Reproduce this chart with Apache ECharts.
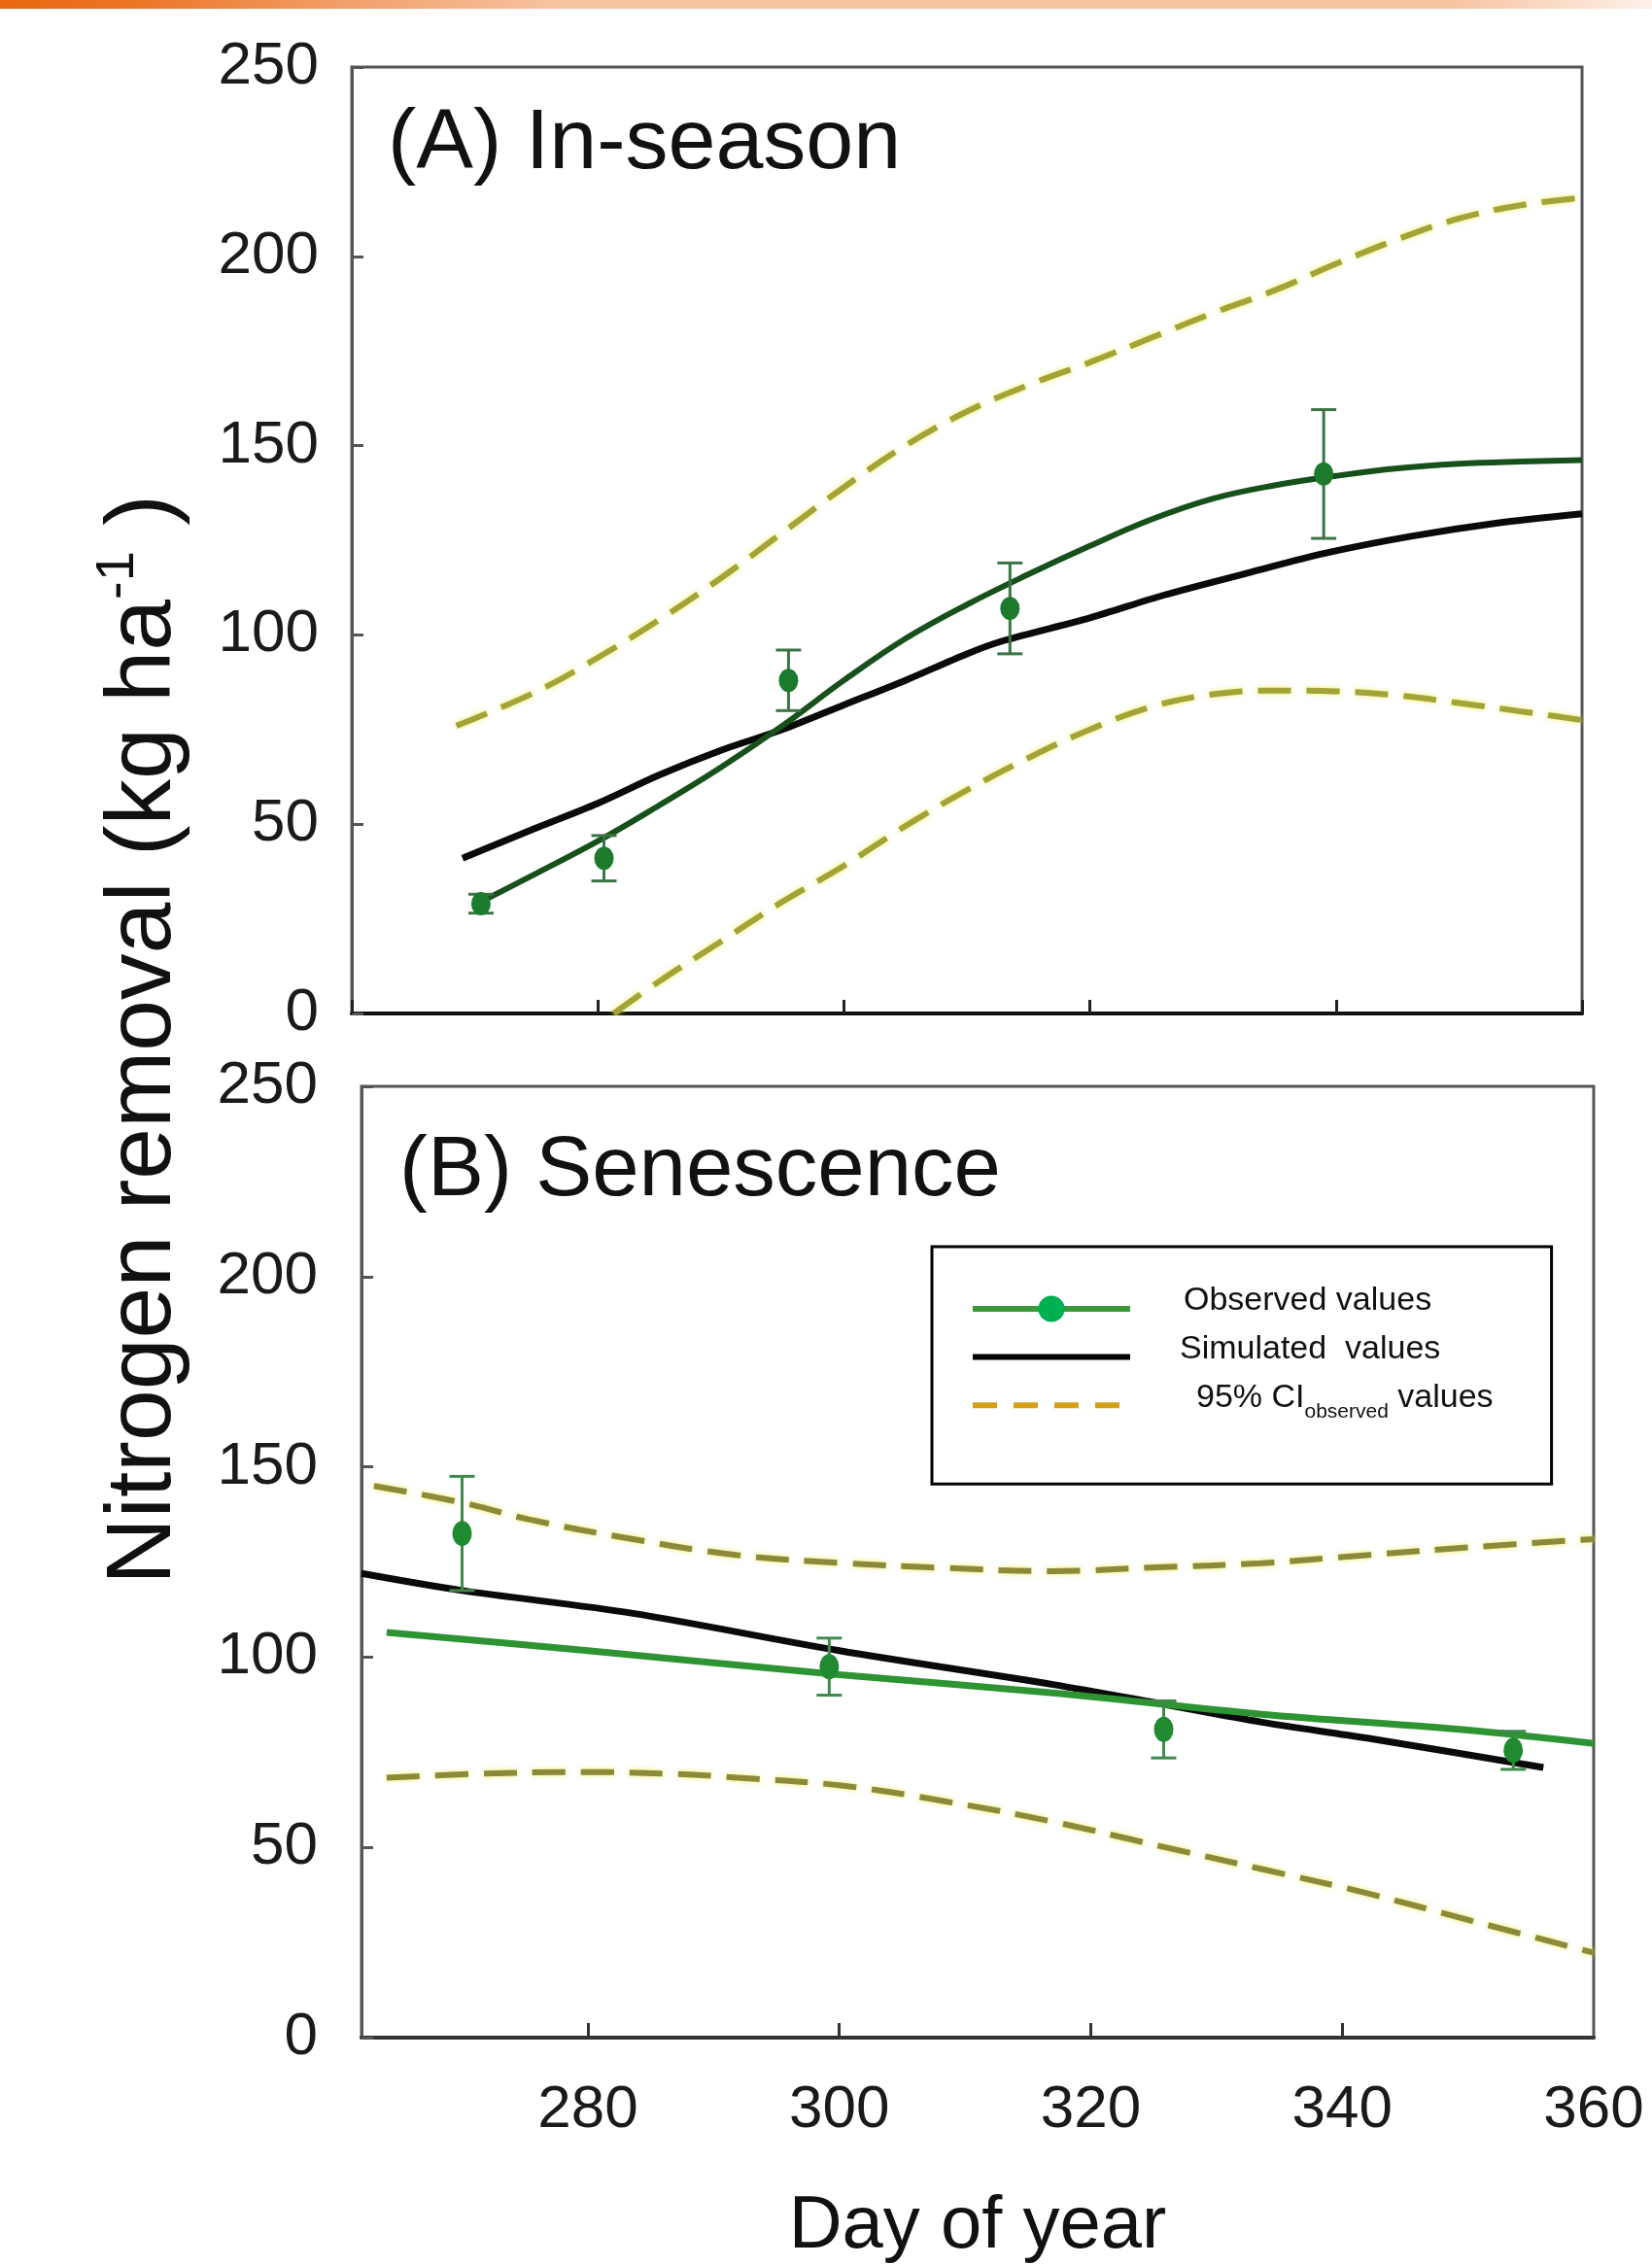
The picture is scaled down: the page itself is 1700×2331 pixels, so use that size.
<!DOCTYPE html>
<html>
<head>
<meta charset="utf-8">
<script src="https://cdn.jsdelivr.net/npm/echarts@6/dist/echarts.min.js"></script>
<style>
html,body{margin:0;padding:0;background:#fff;}
#chart{width:1700px;height:2331px;}
</style>
</head>
<body>
<div id="chart"></div>
<script>
// ---------- DATA ----------
const xTickValues = [280, 300, 320, 340, 360];
const yTickValues = [0, 50, 100, 150, 200, 250];

// (A) In-season
const aObsDays = [270.5, 280.5, 295.5, 313.5, 339];
const aObsVals = [29, 41, 88, 107, 142.5];
const aObsErr  = [2.5, 6, 8, 12, 17];
const aFitDays = [270.5, 275, 280, 285, 290, 295, 300, 305, 310, 315, 320, 325, 330, 335, 340, 345, 350, 355, 360];
const aFitVals = [29.5, 37, 45.5, 55, 65, 76, 88, 99, 108, 116, 123.5, 130.5, 136, 139.5, 142, 144, 145.2, 145.8, 146.2];
const aSimDays = [269, 275, 280, 285, 290, 295, 300, 305, 310, 313, 320, 326, 333, 339, 346, 353, 360];
const aSimVals = [41, 49, 55.5, 63, 69.5, 75, 81.5, 88, 95, 98.5, 104.5, 110.5, 116.5, 121.5, 126, 129.5, 132];
const aUpDays  = [268.5, 275, 280, 285, 290, 295, 300, 305, 310, 315, 320, 325, 330, 335, 340, 345, 350, 355, 360];
const aUpVals  = [76, 85, 94, 104, 115, 127, 139, 150, 159, 166, 172, 178.5, 185, 191, 198, 204.5, 210, 213.5, 215.5];
const aLoDays  = [281.3, 285, 290, 295, 300, 305, 310, 315, 320, 325, 330, 335, 340, 345, 350, 355, 360];
const aLoVals  = [0, 8.5, 19, 29.5, 39, 49.5, 59, 67.5, 75, 81, 84.3, 85.3, 85.1, 84, 82, 79.8, 77.5];

// (B) Senescence
const bObsDays = [270, 299.2, 325.8, 353.6];
const bObsVals = [132.5, 97.5, 81, 75.5];
const bObsErr  = [15, 7.5, 7.5, 5];
const bFitDays = [264, 280, 300, 317, 333.6, 350, 360];
const bFitVals = [106.5, 101.7, 95.4, 90.6, 85, 80.8, 77.3];
const bSimDays = [262, 270, 283.6, 300, 317, 325, 333.6, 342, 356];
const bSimVals = [122, 117.5, 111.5, 101.7, 92.8, 88.1, 82.9, 78.7, 71];
const bUpDays  = [263, 270.3, 275.3, 283.6, 291.9, 300.3, 308, 316.9, 325.3, 333.6, 341.9, 350.3, 360];
const bUpVals  = [145, 140.4, 136.2, 131, 126.8, 124.7, 123.5, 122.6, 123.6, 124.7, 126.8, 128.9, 131];
const bLoDays  = [264, 271, 279.4, 286.9, 291.9, 300.3, 308.6, 316.9, 325.3, 333.6, 341.9, 350.3, 360];
const bLoVals  = [68.3, 69.3, 69.8, 69.3, 68.3, 66.2, 62, 56.8, 50.5, 44.3, 38, 30.7, 22.3];

// ---------- HELPERS ----------
const FONT = "'Liberation Sans', Arial, Helvetica, sans-serif";
const zip = (xs, ys) => xs.map((x, i) => [x, ys[i]]);
const zip3 = (xs, ys, es) => xs.map((x, i) => [x, ys[i], es[i]]);

function errBar(color) {
  return function (params, api) {
    const x = api.value(0), y = api.value(1), e = api.value(2);
    const hi = api.coord([x, y + e]);
    const lo = api.coord([x, y - e]);
    const w = 13;
    const st = { stroke: color, lineWidth: 3, fill: null };
    return {
      type: 'group',
      children: [
        { type: 'line', shape: { x1: hi[0], y1: hi[1], x2: lo[0], y2: lo[1] }, style: st },
        { type: 'line', shape: { x1: hi[0] - w, y1: hi[1], x2: hi[0] + w, y2: hi[1] }, style: st },
        { type: 'line', shape: { x1: lo[0] - w, y1: lo[1], x2: lo[0] + w, y2: lo[1] }, style: st }
      ]
    };
  };
}

const ciStyle = (color) => ({
  color: color, width: 6, type: [34, 16],
  shadowBlur: 5, shadowColor: 'rgba(235,235,70,0.85)'
});

const yAxisBase = (gi, margin) => ({
  type: 'value', gridIndex: gi, min: 0, max: 250, interval: 50,
  axisLine: { show: true, lineStyle: { color: '#555', width: 3 } },
  axisTick: { show: true, inside: true, length: 12, lineStyle: { color: '#555', width: 3 } },
  axisLabel: { show: true, margin: margin, fontSize: 62, fontFamily: FONT, color: '#1a1a1a',
               customValues: yTickValues },
  splitLine: { show: false }
});

const chart = echarts.init(document.getElementById('chart'), null, { renderer: 'canvas' });

const option = {
  backgroundColor: '#ffffff',
  animation: false,
  grid: [
    { left: 362, top: 69, width: 1266, height: 974, show: true, borderColor: '#555', borderWidth: 3, backgroundColor: 'transparent' },
    { left: 372, top: 1118, width: 1268, height: 979, show: true, borderColor: '#555', borderWidth: 3, backgroundColor: 'transparent' }
  ],
  xAxis: [
    {
      type: 'value', gridIndex: 0, min: 260, max: 360, interval: 20,
      axisLine: { show: true, lineStyle: { color: '#111', width: 4 } },
      axisTick: { show: true, inside: true, length: 14, lineStyle: { color: '#222', width: 3 } },
      axisLabel: { show: false },
      splitLine: { show: false }
    },
    {
      type: 'value', gridIndex: 1, min: 262, max: 360,
      axisLine: { show: true, lineStyle: { color: '#333', width: 4 } },
      axisTick: { show: true, inside: true, length: 15, lineStyle: { color: '#333', width: 3 },
                  customValues: xTickValues.slice(0, 4) },
      axisLabel: { show: true, margin: 44, fontSize: 62, fontFamily: FONT, color: '#1a1a1a',
                   customValues: xTickValues, showMaxLabel: true },
      splitLine: { show: false },
      name: 'Day of year', nameLocation: 'middle', nameGap: 157,
      nameTextStyle: { fontSize: 76, fontFamily: FONT, color: '#111' }
    }
  ],
  yAxis: [ yAxisBase(0, 34), yAxisBase(1, 45) ],
  legend: {
    show: true,
    orient: 'vertical',
    left: 959, top: 1283,
    padding: [39, 60, 63, 39],
    borderColor: '#000', borderWidth: 3, backgroundColor: '#fff',
    itemWidth: 162, itemHeight: 34, itemGap: 11,
    selectedMode: false,
    data: [
      { name: 'Observed values',
        itemStyle: { color: '#00b050', opacity: 1, borderWidth: 0 },
        lineStyle: { color: '#3a9a3a', width: 6, opacity: 1, type: 'solid', shadowBlur: 0, shadowColor: 'transparent' } },
      { name: 'Simulated values',
        itemStyle: { color: '#000', opacity: 0, borderWidth: 0 },
        lineStyle: { color: '#000', width: 6, opacity: 1, type: 'solid', shadowBlur: 0, shadowColor: 'transparent' } },
      { name: '95% CI',
        itemStyle: { color: '#d4a017', opacity: 0, borderWidth: 0 },
        lineStyle: { color: '#d4a017', width: 6, opacity: 1, type: [25, 17], shadowBlur: 0, shadowColor: 'transparent' } }
    ],
    formatter: function (name) {
      if (name === 'Observed values') return '{g1| }{t|Observed values}';
      if (name === 'Simulated values') return '{g2| }{t|Simulated  values}';
      return '{g3| }{t|95% CI}{s|observed}{t| values}';
    },
    textStyle: {
      fontSize: 34, fontFamily: FONT, color: '#111',
      padding: [0, 0, 16, 0],
      rich: {
        g1: { width: 50 },
        g2: { width: 46 },
        g3: { width: 63 },
        t: { fontSize: 34, lineHeight: 52, fontFamily: FONT, color: '#111' },
        s: { fontSize: 21, lineHeight: 21, verticalAlign: 'bottom', fontFamily: FONT, color: '#111' }
      }
    }
  },
  graphic: [
    {
      type: 'rect', z: 100,
      shape: { x: 0, y: 0, width: 1700, height: 9 },
      style: {
        fill: { type: 'linear', x: 0, y: 0, x2: 1, y2: 0,
          colorStops: [
            { offset: 0, color: '#e8680f' },
            { offset: 0.08, color: '#ec7425' },
            { offset: 0.22, color: '#f2a36e' },
            { offset: 0.34, color: '#f7c4a2' },
            { offset: 0.88, color: '#f7c4a2' },
            { offset: 1, color: '#fdf1e8' }
          ] }
      }
    },
    {
      type: 'text', x: 149, y: 1070, rotation: Math.PI / 2,
      style: {
        text: '{a|Nitrogen removal (kg ha}{s|-1}{a| )}',
        align: 'center', verticalAlign: 'middle',
        rich: {
          a: { fontSize: 95, lineHeight: 110, fontFamily: FONT, fill: '#111', color: '#111' },
          s: { fontSize: 56, lineHeight: 62, verticalAlign: 'top', fontFamily: FONT, fill: '#111', color: '#111' }
        }
      }
    },
    {
      type: 'text', x: 399, y: 149,
      style: { text: '(A) In-season', fontSize: 88, fontFamily: FONT, fill: '#111', align: 'left', verticalAlign: 'middle' }
    },
    {
      type: 'text', x: 411, y: 1206,
      style: { text: '(B) Senescence', fontSize: 87, fontFamily: FONT, fill: '#111', align: 'left', verticalAlign: 'middle' }
    }
  ],
  series: [
    // ---- legend-anchor & observed points (A) ----
    {
      name: 'Observed values', type: 'line', xAxisIndex: 0, yAxisIndex: 0, z: 6,
      data: zip(aObsDays, aObsVals),
      symbol: 'circle', symbolSize: [20, 24], showSymbol: true,
      itemStyle: { color: '#1c7a2c' },
      lineStyle: { width: 0, opacity: 0 }
    },
    // ---- (A) CI ----
    {
      name: '95% CI', type: 'line', xAxisIndex: 0, yAxisIndex: 0, z: 2,
      data: zip(aUpDays, aUpVals), smooth: 0.4, symbol: 'none',
      lineStyle: ciStyle('#a3a338')
    },
    {
      name: '95% CI', type: 'line', xAxisIndex: 0, yAxisIndex: 0, z: 2,
      data: zip(aLoDays, aLoVals), smooth: 0.4, symbol: 'none',
      lineStyle: ciStyle('#a3a338')
    },
    // ---- (A) simulated ----
    {
      name: 'Simulated values', type: 'line', xAxisIndex: 0, yAxisIndex: 0, z: 3,
      data: zip(aSimDays, aSimVals), smooth: 0.3, symbol: 'none',
      lineStyle: { color: '#0a0a0a', width: 7 }
    },
    // ---- (A) observed fit ----
    {
      name: 'Observed values', type: 'line', xAxisIndex: 0, yAxisIndex: 0, z: 4,
      data: zip(aFitDays, aFitVals), smooth: 0.4, symbol: 'none',
      lineStyle: { color: '#16501b', width: 6 }, itemStyle: { color: '#16501b' }
    },
    // ---- (A) error bars ----
    {
      name: 'errA', type: 'custom', xAxisIndex: 0, yAxisIndex: 0, z: 5,
      data: zip3(aObsDays, aObsVals, aObsErr),
      encode: { x: 0, y: 1 },
      renderItem: errBar('#3a7446')
    },
    // ---- (B) CI ----
    {
      name: '95% CI', type: 'line', xAxisIndex: 1, yAxisIndex: 1, z: 2,
      data: zip(bUpDays, bUpVals), smooth: 0.4, symbol: 'none',
      lineStyle: ciStyle('#8c8a3a')
    },
    {
      name: '95% CI', type: 'line', xAxisIndex: 1, yAxisIndex: 1, z: 2,
      data: zip(bLoDays, bLoVals), smooth: 0.4, symbol: 'none',
      lineStyle: ciStyle('#8c8a3a')
    },
    // ---- (B) simulated ----
    {
      name: 'Simulated values', type: 'line', xAxisIndex: 1, yAxisIndex: 1, z: 3,
      data: zip(bSimDays, bSimVals), smooth: 0.3, symbol: 'none',
      lineStyle: { color: '#0a0a0a', width: 7 }
    },
    // ---- (B) observed fit ----
    {
      name: 'Observed values', type: 'line', xAxisIndex: 1, yAxisIndex: 1, z: 4,
      data: zip(bFitDays, bFitVals), smooth: 0.3, symbol: 'none',
      lineStyle: { color: '#2e9332', width: 7 }, itemStyle: { color: '#2e9332' }
    },
    // ---- (B) error bars ----
    {
      name: 'errB', type: 'custom', xAxisIndex: 1, yAxisIndex: 1, z: 5,
      data: zip3(bObsDays, bObsVals, bObsErr),
      encode: { x: 0, y: 1 },
      renderItem: errBar('#3f8a4a')
    },
    // ---- (B) observed points ----
    {
      name: 'Observed values', type: 'line', xAxisIndex: 1, yAxisIndex: 1, z: 6,
      data: zip(bObsDays, bObsVals),
      symbol: 'circle', symbolSize: [20, 26], showSymbol: true,
      itemStyle: { color: '#1f8a2f' },
      lineStyle: { width: 0, opacity: 0 }
    }
  ]
};

chart.setOption(option);
</script>
</body>
</html>
